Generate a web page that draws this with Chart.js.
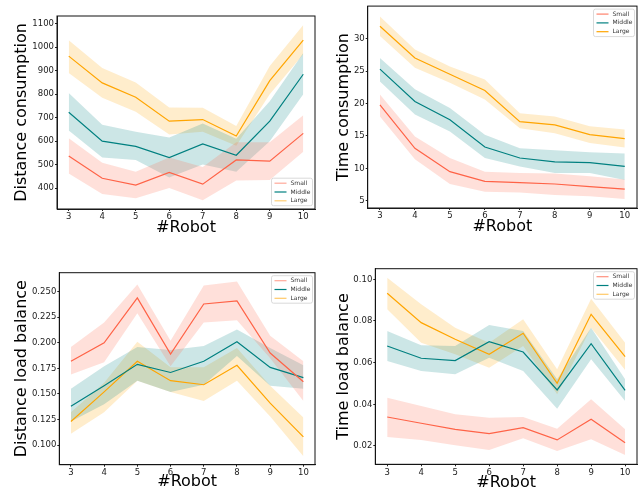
<!DOCTYPE html>
<html>
<head>
<meta charset="utf-8">
<script src="https://cdn.jsdelivr.net/npm/chart.js@4"></script>
<style>
  body { margin: 0; background: #fff; }
  #wrap { position: relative; width: 644px; height: 493px; }
  canvas { position: absolute; }
</style>
</head>
<body>
<div id="wrap">
  <canvas id="c1" width="322" height="246" style="left:0;top:0"></canvas>
  <canvas id="c2" width="322" height="246" style="left:322px;top:0"></canvas>
  <canvas id="c3" width="322" height="247" style="left:0;top:246px"></canvas>
  <canvas id="c4" width="322" height="247" style="left:322px;top:246px"></canvas>
</div>
<script>
const robots = [3, 4, 5, 6, 7, 8, 9, 10];
const names = ['Small', 'Middle', 'Large'];

// distance consumption
const distSmall    = [537, 442, 413, 467, 417, 520, 515, 633];
const distSmallLo  = [462, 375, 357, 400, 348, 432, 435, 555];
const distSmallHi  = [612, 508, 470, 530, 490, 595, 595, 710];
const distMiddle   = [723, 600, 578, 530, 588, 540, 685, 885];
const distMiddleLo = [645, 530, 520, 445, 500, 470, 600, 800];
const distMiddleHi = [805, 670, 640, 615, 675, 610, 770, 975];
const distLarge    = [962, 848, 787, 685, 692, 622, 858, 1030];
const distLargeLo  = [890, 785, 725, 628, 640, 580, 800, 970];
const distLargeHi  = [1030, 912, 850, 743, 742, 665, 920, 1095];
const distTicks = [400, 500, 600, 700, 800, 900, 1000, 1100];

// time consumption
const timeSmall    = [19.8, 13.1, 9.5, 8.0, 7.8, 7.6, 7.2, 6.8];
const timeSmallLo  = [18.0, 11.4, 7.6, 6.4, 6.3, 5.9, 5.7, 5.3];
const timeSmallHi  = [21.4, 14.9, 11.6, 9.5, 9.3, 9.2, 8.8, 8.3];
const timeMiddle   = [25.3, 20.3, 17.5, 13.3, 11.6, 11.0, 10.9, 10.3];
const timeMiddleLo = [23.4, 18.3, 15.7, 11.6, 10.3, 9.3, 9.3, 8.2];
const timeMiddleHi = [27.0, 22.2, 19.3, 15.2, 13.1, 12.8, 12.5, 12.3];
const timeLarge    = [31.9, 27.0, 24.5, 22.0, 17.2, 16.7, 15.2, 14.6];
const timeLargeLo  = [30.4, 25.5, 23.2, 20.6, 16.2, 15.4, 13.9, 13.2];
const timeLargeHi  = [33.4, 28.3, 25.7, 23.7, 18.5, 18.0, 16.5, 16.0];
const timeTicks = [5, 10, 15, 20, 25, 30];

// distance load balance
const dlbSmall    = [0.182, 0.200, 0.244, 0.189, 0.238, 0.241, 0.190, 0.162];
const dlbSmallLo  = [0.169, 0.181, 0.229, 0.177, 0.220, 0.222, 0.185, 0.143];
const dlbSmallHi  = [0.196, 0.220, 0.257, 0.202, 0.256, 0.260, 0.207, 0.182];
const dlbMiddle   = [0.138, 0.158, 0.179, 0.171, 0.182, 0.201, 0.176, 0.166];
const dlbMiddleLo = [0.123, 0.140, 0.163, 0.152, 0.159, 0.187, 0.158, 0.155];
const dlbMiddleHi = [0.155, 0.177, 0.196, 0.193, 0.197, 0.213, 0.195, 0.178];
const dlbLarge    = [0.123, 0.152, 0.182, 0.163, 0.159, 0.178, 0.141, 0.108];
const dlbLargeLo  = [0.111, 0.132, 0.163, 0.152, 0.143, 0.163, 0.128, 0.089];
const dlbLargeHi  = [0.132, 0.161, 0.201, 0.176, 0.176, 0.195, 0.158, 0.127];
const dlbTicks = [0.100, 0.125, 0.150, 0.175, 0.200, 0.225, 0.250];

// time load balance
const tlbSmall    = [0.0339, 0.0309, 0.0280, 0.0259, 0.0288, 0.0229, 0.0328, 0.0216];
const tlbSmallLo  = [0.0243, 0.0229, 0.0203, 0.0181, 0.0237, 0.0176, 0.0232, 0.0157];
const tlbSmallHi  = [0.0432, 0.0392, 0.0352, 0.0336, 0.0339, 0.0283, 0.0424, 0.0280];
const tlbMiddle   = [0.0680, 0.0621, 0.0610, 0.0701, 0.0651, 0.0469, 0.0691, 0.0467];
const tlbMiddleLo = [0.0608, 0.0560, 0.0544, 0.0624, 0.0560, 0.0379, 0.0616, 0.0416];
const tlbMiddleHi = [0.0752, 0.0683, 0.0680, 0.0781, 0.0752, 0.0520, 0.0768, 0.0520];
const tlbLarge    = [0.0933, 0.0792, 0.0712, 0.0640, 0.0741, 0.0501, 0.0832, 0.0629];
const tlbLargeLo  = [0.0856, 0.0696, 0.0640, 0.0576, 0.0680, 0.0448, 0.0768, 0.0565];
const tlbLargeHi  = [0.1008, 0.0880, 0.0768, 0.0696, 0.0808, 0.0568, 0.0907, 0.0696];
const tlbTicks = [0.02, 0.04, 0.06, 0.08, 0.10];

const lineColors = ['#ff6347', '#008080', '#ffa500'];
const bandColors = ['rgba(255,99,71,0.2)', 'rgba(0,128,128,0.2)', 'rgba(255,165,0,0.2)'];
const FONT = 'DejaVu Sans';

const pts = arr => robots.map((x, i) => ({x: x, y: arr[i]}));

// frame round the plot area
const framePlugin = {
  id: 'frame',
  afterDraw(chart) {
    const {ctx, chartArea: a} = chart;
    ctx.save();
    ctx.strokeStyle = '#111';
    ctx.lineWidth = 1;
    ctx.strokeRect(a.left, a.top, a.right - a.left, a.bottom - a.top);
    ctx.restore();
  }
};

// small matplotlib-like legend box
const boxLegend = {
  id: 'boxLegend',
  afterDraw(chart, args, opts) {
    const {ctx, chartArea: a} = chart;
    const w = 41, h = 27.5;
    const x = a.right - 2.5 - w;
    const y = opts.corner === 'bottom' ? a.bottom - 3.3 - h : a.top + 3;
    ctx.save();
    ctx.fillStyle = 'rgba(255,255,255,0.85)';
    ctx.strokeStyle = '#d0d0d0';
    ctx.lineWidth = 0.8;
    ctx.beginPath();
    ctx.roundRect(x, y, w, h, 2);
    ctx.fill();
    ctx.stroke();
    ctx.font = '6px "' + FONT + '"';
    ctx.textBaseline = 'middle';
    ctx.fillStyle = '#333';
    names.forEach((n, i) => {
      const ry = y + 5 + i * 8.8;
      ctx.globalAlpha = opts.alphas[i];
      ctx.strokeStyle = lineColors[i];
      ctx.lineWidth = 1.2;
      ctx.beginPath();
      ctx.moveTo(x + 3, ry);
      ctx.lineTo(x + 15, ry);
      ctx.stroke();
      ctx.globalAlpha = 1;
      ctx.fillText(n, x + 19, ry);
    });
    ctx.restore();
  }
};

function makeChart(id, p) {
  const datasets = [];
  p.series.forEach((s, i) => {
    datasets.push({data: pts(s[1]), borderWidth: 0, pointRadius: 0, fill: false, band: true});
    datasets.push({data: pts(s[2]), borderWidth: 0, pointRadius: 0, fill: '-1',
                   backgroundColor: bandColors[i], band: true});
  });
  p.series.forEach((s, i) => {
    datasets.push({label: names[i], data: pts(s[0]), borderColor: lineColors[i],
                   borderWidth: 1.2, pointRadius: 0, fill: false, tension: 0});
  });
  const tickFont = {family: FONT, size: 8.5};
  const titleFont = {family: FONT, size: 16};
  new Chart(document.getElementById(id), {
    type: 'line',
    data: {datasets: datasets},
    plugins: [framePlugin, boxLegend],
    options: {
      responsive: false,
      animation: false,
      layout: {padding: {left: 0, top: p.padTop, right: 7, bottom: 0}},
      plugins: {
        legend: {display: false},
        tooltip: {enabled: false},
        filler: {drawTime: 'beforeDatasetsDraw'},
        boxLegend: {corner: p.legend, alphas: p.legendAlphas}
      },
      scales: {
        x: {
          type: 'linear', min: 2.65, max: 10.35,
          afterBuildTicks: ax => { ax.ticks = robots.map(v => ({value: v})); },
          afterFit: ax => { ax.height = p.xH; },
          grid: {display: true, drawOnChartArea: false, drawTicks: true, tickLength: 2, color: '#222'},
          border: {display: true, color: '#222'},
          ticks: {color: '#222', font: tickFont, padding: 1, maxRotation: 0},
          title: {display: true, text: '#Robot', color: '#000', font: titleFont,
                  padding: {top: 0, bottom: p.xTitlePad}}
        },
        y: {
          min: p.yMin, max: p.yMax,
          afterBuildTicks: ax => { ax.ticks = p.yTicks.map(v => ({value: v})); },
          afterFit: ax => { ax.width = p.yW; },
          grid: {display: true, drawOnChartArea: false, drawTicks: true, tickLength: 2, color: '#222'},
          border: {display: true, color: '#222'},
          ticks: {color: '#222', font: tickFont, padding: 1, callback: p.fmt},
          title: {display: true, text: p.yTitle, color: '#000', font: titleFont,
                  padding: {top: 12, bottom: 0}}
        }
      }
    }
  });
}

makeChart('c1', {
  series: [[distSmall, distSmallLo, distSmallHi], [distMiddle, distMiddleLo, distMiddleHi],
           [distLarge, distLargeLo, distLargeHi]],
  yMin: 311, yMax: 1133, yTicks: distTicks, fmt: v => String(v),
  yTitle: 'Distance consumption', yW: 57, xH: 37, padTop: 16, xTitlePad: 9,
  legend: 'bottom', legendAlphas: [0.55, 1, 0.55]
});
makeChart('c2', {
  series: [[timeSmall, timeSmallLo, timeSmallHi], [timeMiddle, timeMiddleLo, timeMiddleHi],
           [timeLarge, timeLargeLo, timeLargeHi]],
  yMin: 3.9, yMax: 35.0, yTicks: timeTicks, fmt: v => String(v),
  yTitle: 'Time consumption', yW: 45.7, xH: 38, padTop: 6, xTitlePad: 9.4,
  legend: 'top', legendAlphas: [0.8, 1, 1]
});
makeChart('c3', {
  series: [[dlbSmall, dlbSmallLo, dlbSmallHi], [dlbMiddle, dlbMiddleLo, dlbMiddleHi],
           [dlbLarge, dlbLargeLo, dlbLargeHi]],
  yMin: 0.0808, yMax: 0.2686, yTicks: dlbTicks, fmt: v => v.toFixed(3),
  yTitle: 'Distance load balance', yW: 59.3, xH: 28.3, padTop: 26.7, xTitlePad: 1.4,
  legend: 'top', legendAlphas: [0.55, 1, 0.6]
});
makeChart('c4', {
  series: [[tlbSmall, tlbSmallLo, tlbSmallHi], [tlbMiddle, tlbMiddleLo, tlbMiddleHi],
           [tlbLarge, tlbLargeLo, tlbLargeHi]],
  yMin: 0.0112, yMax: 0.1051, yTicks: tlbTicks, fmt: v => v.toFixed(2),
  yTitle: 'Time load balance', yW: 53.3, xH: 28.7, padTop: 22.7, xTitlePad: 0.9,
  legend: 'top', legendAlphas: [0.7, 1, 0.6]
});
</script>
</body>
</html>
